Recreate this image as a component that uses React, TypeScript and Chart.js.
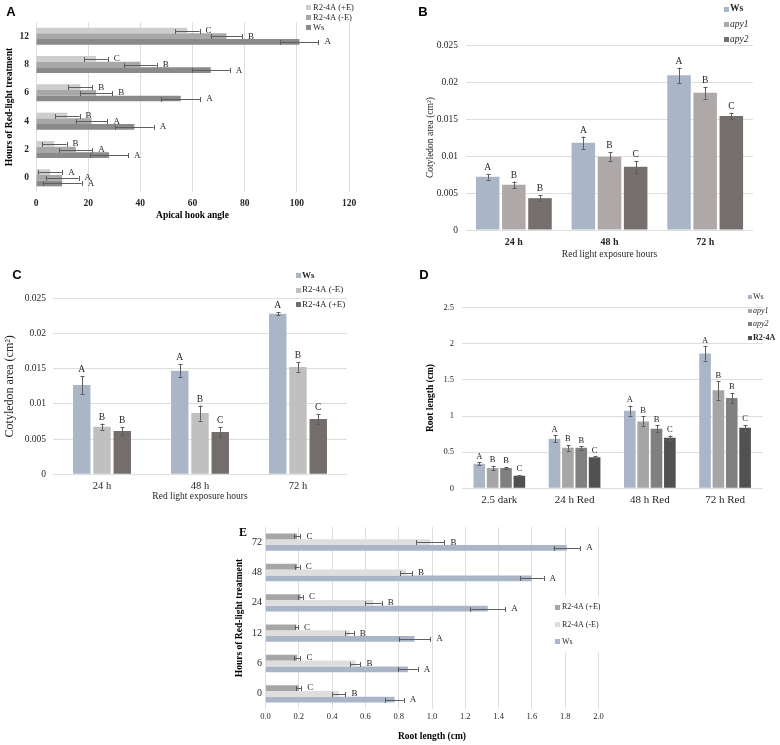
import React, { useEffect, useRef } from 'react';
import { Chart, registerables } from 'chart.js';

Chart.register(...registerables);

const SERIF = '"Liberation Serif", "Times New Roman", serif';
const SANS = '"Liberation Sans", Arial, sans-serif';
const GRID = '#dedede';
const TXT = '#262626';
const ERR = '#5e5e5e';

// ---------- Panel A: apical hook angle ----------
const hookHours = ['12', '8', '6', '4', '2', '0'];
const hookTicks = [0, 20, 40, 60, 80, 100, 120];
const hookPlusE = [58, 23, 17, 12, 7, 5.4];
const hookPlusEErr = [4.7, 4.5, 4.6, 4.7, 4.7, 4.7];
const hookPlusELetters = ['C', 'C', 'B', 'B', 'B', 'A'];
const hookMinusE = [73, 40, 23, 21.3, 15.3, 10];
const hookMinusEErr = [6.0, 6.3, 6.2, 6.1, 6.3, 6.3];
const hookMinusELetters = ['B', 'B', 'B', 'A', 'A', 'A'];
const hookWs = [101, 67, 55.5, 37.7, 28, 10];
const hookWsErr = [7.3, 7.3, 7.5, 7.4, 7.3, 7.5];
const hookWsLetters = ['A', 'A', 'A', 'A', 'A', 'A'];

// ---------- Panel B: cotyledon area, apy mutants ----------
const exposureCats = ['24 h', '48 h', '72 h'];
const areaTicks = [0, 0.005, 0.01, 0.015, 0.02, 0.025];
const areaBWs = [0.0072, 0.0118, 0.0209];
const areaBWsErr = [0.0004, 0.00083, 0.00105];
const areaBWsLetters = ['A', 'A', 'A'];
const areaBApy1 = [0.0061, 0.0099, 0.01855];
const areaBApy1Err = [0.00045, 0.0006, 0.0008];
const areaBApy1Letters = ['B', 'B', 'B'];
const areaBApy2 = [0.0043, 0.00855, 0.0154];
const areaBApy2Err = [0.0004, 0.00079, 0.00045];
const areaBApy2Letters = ['B', 'C', 'C'];

// ---------- Panel C: cotyledon area, R2-4A ----------
const areaCWs = [0.01268, 0.0147, 0.0228];
const areaCWsErr = [0.00125, 0.0009, 0.0002];
const areaCWsLetters = ['A', 'A', 'A'];
const areaCMinusE = [0.00676, 0.0087, 0.01524];
const areaCMinusEErr = [0.00043, 0.00107, 0.00066];
const areaCMinusELetters = ['B', 'B', 'B'];
const areaCPlusE = [0.00615, 0.006, 0.00785];
const areaCPlusEErr = [0.00057, 0.00069, 0.00073];
const areaCPlusELetters = ['B', 'C', 'C'];

// ---------- Panel D: root length ----------
const rootCats = ['2.5 dark', '24 h Red', '48 h Red', '72 h Red'];
const rootTicks = [0, 0.5, 1, 1.5, 2, 2.5];
const rootDWs = [0.34, 0.685, 1.074, 1.866];
const rootDWsErr = [0.02, 0.05, 0.07, 0.097];
const rootDWsLetters = ['A', 'A', 'A', 'A'];
const rootDApy1 = [0.28, 0.56, 0.926, 1.356];
const rootDApy1Err = [0.03, 0.04, 0.07, 0.127];
const rootDApy1Letters = ['B', 'B', 'B', 'B'];
const rootDApy2 = [0.28, 0.56, 0.824, 1.25];
const rootDApy2Err = [0.015, 0.025, 0.046, 0.07];
const rootDApy2Letters = ['B', 'B', 'B', 'B'];
const rootDR24A = [0.175, 0.43, 0.7, 0.838];
const rootDR24AErr = [0.01, 0.015, 0.03, 0.04];
const rootDR24ALetters = ['C', 'C', 'C', 'C'];

// ---------- Panel E: root length vs hours ----------
const rootHours = ['72', '48', '24', '12', '6', '0'];
const rootLenTicks = [0, 0.2, 0.4, 0.6, 0.8, 1.0, 1.2, 1.4, 1.6, 1.8, 2.0];
const rootEPlusE = [0.19, 0.19, 0.21, 0.185, 0.19, 0.2];
const rootEPlusEErr = [0.02, 0.015, 0.015, 0.01, 0.02, 0.015];
const rootEPlusELetters = ['C', 'C', 'C', 'C', 'C', 'C'];
const rootEMinusE = [0.99, 0.845, 0.648, 0.505, 0.54, 0.44];
const rootEMinusEErr = [0.085, 0.035, 0.05, 0.025, 0.03, 0.04];
const rootEMinusELetters = ['B', 'B', 'B', 'B', 'B', 'B'];
const rootEWs = [1.81, 1.6, 1.335, 0.895, 0.855, 0.775];
const rootEWsErr = [0.08, 0.07, 0.105, 0.095, 0.06, 0.055];
const rootEWsLetters = ['A', 'A', 'A', 'A', 'A', 'A'];

// ---------- helpers ----------
const f = (size: number, weight: any = 'normal', style: any = 'normal', family = SERIF) => ({ family, size, weight, style });

function errorBarPlugin(horizontal: boolean, letterSize: number, cap: number, gap: number) {
  return {
    id: 'errorBars',
    afterDatasetsDraw(chart: any) {
      const ctx = chart.ctx;
      const vs = horizontal ? chart.scales.x : chart.scales.y;
      ctx.save();
      chart.data.datasets.forEach((ds: any, di: number) => {
        const meta = chart.getDatasetMeta(di);
        meta.data.forEach((el: any, i: number) => {
          const v = ds.data[i];
          const e = ds.errors[i];
          const lo = vs.getPixelForValue(v - e);
          const hi = vs.getPixelForValue(v + e);
          ctx.strokeStyle = ERR;
          ctx.lineWidth = 1;
          ctx.beginPath();
          if (horizontal) {
            const y = Math.round(el.y) + 0.5;
            ctx.moveTo(lo, y); ctx.lineTo(hi, y);
            ctx.moveTo(Math.round(lo) + 0.5, y - cap); ctx.lineTo(Math.round(lo) + 0.5, y + cap);
            ctx.moveTo(Math.round(hi) + 0.5, y - cap); ctx.lineTo(Math.round(hi) + 0.5, y + cap);
          } else {
            const x = Math.round(el.x) + 0.5;
            ctx.moveTo(x, lo); ctx.lineTo(x, hi);
            ctx.moveTo(x - cap, Math.round(lo) + 0.5); ctx.lineTo(x + cap, Math.round(lo) + 0.5);
            ctx.moveTo(x - cap, Math.round(hi) + 0.5); ctx.lineTo(x + cap, Math.round(hi) + 0.5);
          }
          ctx.stroke();
          ctx.fillStyle = TXT;
          ctx.font = `normal ${letterSize}px ${SERIF}`;
          if (horizontal) {
            ctx.textAlign = 'left';
            ctx.textBaseline = 'middle';
            ctx.fillText(ds.letters[i], hi + gap, el.y);
          } else {
            ctx.textAlign = 'center';
            ctx.textBaseline = 'alphabetic';
            ctx.fillText(ds.letters[i], el.x, hi - gap);
          }
        });
      });
      ctx.restore();
    },
  };
}

type LegendItem = { text: string; color: string; weight?: string; style?: string };
function legendPlugin(items: LegendItem[], boxX: number, textX: number, y0: number, step: number, box: number, size: number, bg = false) {
  return {
    id: 'boxLegend',
    afterDraw(chart: any) {
      const ctx = chart.ctx;
      ctx.save();
      if (bg) {
        ctx.fillStyle = '#ffffff';
        ctx.fillRect(boxX - 4, y0 - step / 2 - 2, 62, step * items.length + 4);
      }
      items.forEach((it, i) => {
        const cy = y0 + i * step;
        ctx.fillStyle = it.color;
        ctx.fillRect(boxX, Math.round(cy - box / 2), box, box);
        ctx.fillStyle = TXT;
        ctx.font = `${it.style || 'normal'} ${it.weight || 'normal'} ${size}px ${SERIF}`;
        ctx.textAlign = 'left';
        ctx.textBaseline = 'middle';
        ctx.fillText(it.text, textX, cy);
      });
      ctx.restore();
    },
  };
}

function panelLabel(text: string, x: number, y: number, font: string) {
  return {
    id: 'panelLabel',
    afterDraw(chart: any) {
      const ctx = chart.ctx;
      ctx.save();
      ctx.fillStyle = '#000';
      ctx.font = font;
      ctx.textAlign = 'center';
      ctx.textBaseline = 'middle';
      ctx.fillText(text, x, y);
      ctx.restore();
    },
  };
}

function valueAxis(ticksArr: number[], fmt: (v: number) => string, tickFont: any, tickPad: number, extra: any) {
  return {
    type: 'linear',
    min: ticksArr[0],
    max: ticksArr[ticksArr.length - 1],
    afterBuildTicks: (s: any) => {
      s.ticks = ticksArr.map((v) => ({ value: v }));
    },
    ticks: { font: tickFont, color: TXT, padding: tickPad, callback: (v: any) => fmt(Number(v)) },
    grid: { color: GRID, drawTicks: false },
    border: { display: false },
    ...extra,
  };
}

function catAxis(tickFont: any, tickPad: number, extra: any) {
  return {
    type: 'category',
    ticks: { font: tickFont, color: TXT, padding: tickPad },
    grid: { display: false, drawTicks: false },
    border: { display: false },
    ...extra,
  };
}

const plain = (v: number) => String(Number(v.toFixed(4)));

function ds(label: string, data: number[], errors: number[], letters: string[], color: string) {
  return { label, data, errors, letters, backgroundColor: color, borderWidth: 0 };
}

// ---------- chart configs ----------
function configA() {
  return {
    type: 'bar',
    data: {
      labels: hookHours,
      datasets: [
        ds('R2-4A (+E)', hookPlusE, hookPlusEErr, hookPlusELetters, '#cdcdcd'),
        ds('R2-4A (-E)', hookMinusE, hookMinusEErr, hookMinusELetters, '#a8a8a8'),
        ds('Ws', hookWs, hookWsErr, hookWsLetters, '#8a8a8a'),
      ],
    },
    options: {
      indexAxis: 'y',
      animation: false,
      responsive: false,
      datasets: { bar: { barPercentage: 1, categoryPercentage: 0.6 } },
      layout: { padding: { left: 0, right: 41, top: 22, bottom: 0 } },
      plugins: { legend: { display: false }, tooltip: { enabled: false } },
      scales: {
        x: valueAxis(hookTicks, plain, f(9.5, 'bold'), 6, {
          title: { display: true, text: 'Apical hook angle', font: f(9.5, 'bold'), color: '#000', padding: { top: 0, bottom: 7 } },
          afterFit: (s: any) => { s.height = 36; },
        }),
        y: catAxis(f(9.5, 'bold'), 7, {
          title: { display: true, text: 'Hours of Red-light treatment', font: f(9.5, 'bold'), color: '#000', padding: { top: 4, bottom: 0 } },
          afterFit: (s: any) => { s.width = 36; },
        }),
      },
    },
    plugins: [
      errorBarPlugin(true, 9, 2.5, 6),
      legendPlugin(
        [
          { text: 'R2-4A (+E)', color: '#cdcdcd' },
          { text: 'R2-4A (-E)', color: '#a8a8a8' },
          { text: 'Ws', color: '#8a8a8a' },
        ],
        306, 313, 7.5, 10, 5, 8.5,
      ),
      panelLabel('A', 11, 12.5, `bold 13px ${SANS}`),
    ],
  };
}

function configB() {
  return {
    type: 'bar',
    data: {
      labels: exposureCats,
      datasets: [
        ds('Ws', areaBWs, areaBWsErr, areaBWsLetters, '#aab6c8'),
        ds('apy1', areaBApy1, areaBApy1Err, areaBApy1Letters, '#aea8a9'),
        ds('apy2', areaBApy2, areaBApy2Err, areaBApy2Letters, '#756f6e'),
      ],
    },
    options: {
      animation: false,
      responsive: false,
      datasets: { bar: { barPercentage: 0.9, categoryPercentage: 0.82 } },
      layout: { padding: { left: 0, right: 27, top: 45, bottom: 0 } },
      plugins: { legend: { display: false }, tooltip: { enabled: false } },
      scales: {
        x: catAxis(f(10, 'bold'), 6, {
          title: { display: true, text: 'Red light exposure hours', font: f(9.5), color: TXT, padding: { top: 0, bottom: 2 } },
          afterFit: (s: any) => { s.height = 32; },
        }),
        y: valueAxis(areaTicks, plain, f(9.5), 8, {
          title: { display: true, text: 'Cotyledon area (cm²)', font: f(9.5), color: TXT, padding: { top: 35, bottom: 0 } },
          afterFit: (s: any) => { s.width = 76; },
        }),
      },
    },
    plugins: [
      errorBarPlugin(false, 9.5, 2, 4),
      legendPlugin(
        [
          { text: 'Ws', color: '#aab6c8', weight: 'bold' },
          { text: 'apy1', color: '#aea8a9', style: 'italic' },
          { text: 'apy2', color: '#756f6e', style: 'italic' },
        ],
        334, 340, 9, 15, 5, 9.5,
      ),
      panelLabel('B', 33, 12.5, `bold 13px ${SANS}`),
    ],
  };
}

function configC() {
  return {
    type: 'bar',
    data: {
      labels: exposureCats,
      datasets: [
        ds('Ws', areaCWs, areaCWsErr, areaCWsLetters, '#aab6c8'),
        ds('R2-4A (-E)', areaCMinusE, areaCMinusEErr, areaCMinusELetters, '#c0c0c0'),
        ds('R2-4A (+E)', areaCPlusE, areaCPlusEErr, areaCPlusELetters, '#736d6c'),
      ],
    },
    options: {
      animation: false,
      responsive: false,
      datasets: { bar: { barPercentage: 0.86, categoryPercentage: 0.62 } },
      layout: { padding: { left: 0, right: 43, top: 36.3, bottom: 0 } },
      plugins: { legend: { display: false }, tooltip: { enabled: false } },
      scales: {
        x: catAxis(f(10.5), 6, {
          title: { display: true, text: 'Red light exposure hours', font: f(9.5), color: TXT, padding: { top: 0, bottom: 5 } },
          afterFit: (s: any) => { s.height = 32.7; },
        }),
        y: valueAxis(areaTicks, plain, f(9.5), 7, {
          title: { display: true, text: 'Cotyledon area (cm²)', font: f(12), color: TXT, padding: { top: 3, bottom: 0 } },
          afterFit: (s: any) => { s.width = 53; },
        }),
      },
    },
    plugins: [
      errorBarPlugin(false, 9.5, 2, 4),
      legendPlugin(
        [
          { text: 'Ws', color: '#aab6c8', weight: 'bold' },
          { text: 'R2-4A (-E)', color: '#c0c0c0' },
          { text: 'R2-4A (+E)', color: '#736d6c' },
        ],
        296, 302, 13.7, 14.3, 5, 9,
      ),
      panelLabel('C', 17, 13, `bold 13px ${SANS}`),
    ],
  };
}

function configD() {
  return {
    type: 'bar',
    data: {
      labels: rootCats,
      datasets: [
        ds('Ws', rootDWs, rootDWsErr, rootDWsLetters, '#aab6c8'),
        ds('apy1', rootDApy1, rootDApy1Err, rootDApy1Letters, '#a6a6a6'),
        ds('apy2', rootDApy2, rootDApy2Err, rootDApy2Letters, '#808080'),
        ds('R2-4A', rootDR24A, rootDR24AErr, rootDR24ALetters, '#515151'),
      ],
    },
    options: {
      animation: false,
      responsive: false,
      datasets: { bar: { barPercentage: 0.87, categoryPercentage: 0.71 } },
      layout: { padding: { left: 0, right: 17.3, top: 45.7, bottom: 0 } },
      plugins: { legend: { display: false }, tooltip: { enabled: false } },
      scales: {
        x: catAxis(f(11), 5, {
          afterFit: (s: any) => { s.height = 23.7; },
        }),
        y: valueAxis(rootTicks, plain, f(8.5), 7.7, {
          title: { display: true, text: 'Root length (cm)', font: f(9.5, 'bold'), color: '#000', padding: { top: 35, bottom: 0 } },
          afterFit: (s: any) => { s.width = 71.7; },
        }),
      },
    },
    plugins: [
      errorBarPlugin(false, 8.5, 2, 3.5),
      legendPlugin(
        [
          { text: 'Ws', color: '#aab6c8' },
          { text: 'apy1', color: '#a6a6a6', style: 'italic' },
          { text: 'apy2', color: '#808080', style: 'italic' },
          { text: 'R2-4A', color: '#515151', weight: 'bold' },
        ],
        358, 363, 35.3, 13.5, 4, 8,
      ),
      panelLabel('D', 34, 13, `bold 13px ${SANS}`),
    ],
  };
}

function configE() {
  return {
    type: 'bar',
    data: {
      labels: rootHours,
      datasets: [
        ds('R2-4A (+E)', rootEPlusE, rootEPlusEErr, rootEPlusELetters, '#a6a6a6'),
        ds('R2-4A (-E)', rootEMinusE, rootEMinusEErr, rootEMinusELetters, '#dedede'),
        ds('Ws', rootEWs, rootEWsErr, rootEWsLetters, '#aab6c8'),
      ],
    },
    options: {
      indexAxis: 'y',
      animation: false,
      responsive: false,
      datasets: { bar: { barPercentage: 1, categoryPercentage: 0.57 } },
      layout: { padding: { left: 0, right: 51.5, top: 12, bottom: 0 } },
      plugins: { legend: { display: false }, tooltip: { enabled: false } },
      scales: {
        x: valueAxis(rootLenTicks, (v) => v.toFixed(1), f(8.5), 3, {
          title: { display: true, text: 'Root length (cm)', font: f(9.5, 'bold'), color: '#000', padding: { top: 0, bottom: 3 } },
          afterFit: (s: any) => { s.height = 36; },
        }),
        y: catAxis(f(10), 3.5, {
          title: { display: true, text: 'Hours of Red-light treatment', font: f(9.5, 'bold'), color: '#000', padding: { top: 4, bottom: 0 } },
          afterFit: (s: any) => { s.width = 35.5; },
        }),
      },
    },
    plugins: [
      errorBarPlugin(true, 9, 2.5, 6),
      legendPlugin(
        [
          { text: 'R2-4A (+E)', color: '#a6a6a6' },
          { text: 'R2-4A (-E)', color: '#dedede' },
          { text: 'Ws', color: '#aab6c8' },
        ],
        325, 332, 92.3, 17.3, 5, 8, true,
      ),
      panelLabel('E', 13, 17.5, `bold 12px ${SERIF}`),
    ],
  };
}

function ChartCanvas({ left, top, width, height, make }: { left: number; top: number; width: number; height: number; make: () => any }) {
  const ref = useRef<HTMLCanvasElement>(null);
  useEffect(() => {
    const chart = new Chart(ref.current as HTMLCanvasElement, make());
    return () => chart.destroy();
  }, []);
  return (
    <canvas
      ref={ref}
      width={width}
      height={height}
      style={{ position: 'absolute', left, top, width, height, display: 'block' }}
    />
  );
}

export default function App() {
  return (
    <div style={{ position: 'absolute', left: 0, top: 0, width: 780, height: 745, background: '#ffffff', overflow: 'hidden' }}>
      <ChartCanvas left={0} top={0} width={390} height={228} make={configA} />
      <ChartCanvas left={390} top={0} width={390} height={262} make={configB} />
      <ChartCanvas left={0} top={262} width={390} height={245} make={configC} />
      <ChartCanvas left={390} top={262} width={390} height={250} make={configD} />
      <ChartCanvas left={230} top={515} width={420} height={230} make={configE} />
    </div>
  );
}
